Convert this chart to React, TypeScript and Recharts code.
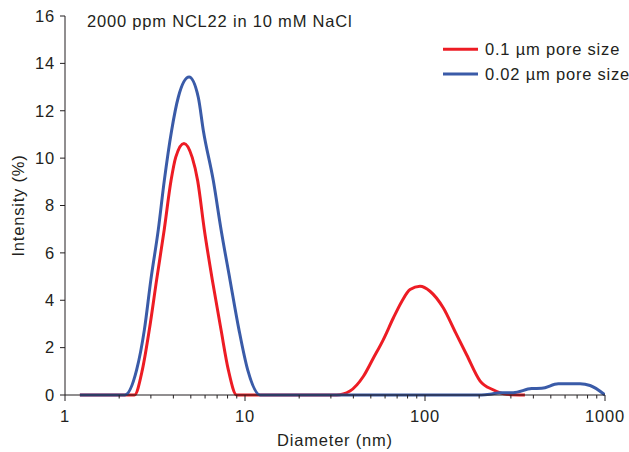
import { LineChart, Line, XAxis, YAxis } from "recharts";

// diameter (nm) / intensity (%)
const redDiameter = [
  1.21, 2.43, 2.69, 2.94, 3.23, 3.56, 3.88, 4.12, 4.58, 5.09, 5.46, 5.94, 6.58, 7.36, 8.08, 8.99,
  32.3, 38.3, 45.4, 51.6, 58.6, 66.7, 74.3, 82.6, 93.8, 106.6, 126.5, 146.8, 170.6, 202, 239, 284, 359,
];
const redIntensity = [
  0, 0, 1.06, 2.75, 4.87, 6.99, 9.04, 10.03, 10.62, 10.03, 9.04, 6.99, 4.87, 2.75, 1.06, 0,
  0, 0.17, 0.78, 1.55, 2.33, 3.25, 3.95, 4.45, 4.59, 4.38, 3.67, 2.68, 1.69, 0.6, 0.22, 0.03, 0,
];
const blueDiameter = [
  1.21, 2.15, 2.5, 2.76, 3.0, 3.3, 3.56, 3.91, 4.26, 4.89, 5.5, 5.87, 6.67, 7.36, 8.25, 9.26, 10.35, 12.12,
  206, 230, 261, 309, 391, 445, 550, 727, 826, 1000,
];
const blueIntensity = [
  0, 0, 1.06, 2.75, 4.87, 6.99, 9.04, 11.16, 12.57, 13.42, 12.57, 11.16, 9.04, 6.99, 4.87, 2.75, 1.06, 0,
  0, 0.03, 0.1, 0.1, 0.27, 0.28, 0.47, 0.47, 0.4, 0,
];

const xMajor = [1, 10, 100, 1000];
const xTicks = [
  1, 2, 3, 4, 5, 6, 7, 8, 9, 10, 20, 30, 40, 50, 60, 70, 80, 90, 100, 200, 300, 400, 500, 600, 700, 800,
  900, 1000,
];
const yTicks = [0, 2, 4, 6, 8, 10, 12, 14, 16];

const RED = "#ed1c24";
const BLUE = "#3a5ba8";
const INK = "#231f20";
const FONT = "'Liberation Sans', Arial, sans-serif";
const textStyle = { fontFamily: FONT, fontSize: 16.5, letterSpacing: 0.8, fill: INK };

const redData = redDiameter.map((d, i) => ({ d, v: redIntensity[i] }));
const blueData = blueDiameter.map((d, i) => ({ d, v: blueIntensity[i] }));

const XTick = (props: any) => {
  const { x, y, payload } = props;
  const major = xMajor.includes(payload.value);
  return (
    <g>
      <line x1={x} x2={x} y1={y} y2={y + (major ? 6 : 3.5)} stroke={INK} strokeWidth={1} />
      {major && (
        <text x={x} y={y + 27} textAnchor="middle" style={textStyle}>
          {payload.value}
        </text>
      )}
    </g>
  );
};

const series = [
  { name: "0.1 µm pore size", color: RED },
  { name: "0.02 µm pore size", color: BLUE },
];

export default function App() {
  return (
    <div style={{ position: "absolute", left: 0, top: 0, width: 629, height: 452, background: "#fff" }}>
      <LineChart width={629} height={452} margin={{ top: 16, right: 24, bottom: 0, left: 0 }}>
        <XAxis
          dataKey="d"
          type="number"
          scale="log"
          domain={[1, 1000]}
          ticks={xTicks}
          interval={0}
          allowDataOverflow
          height={57}
          tickSize={0}
          tickMargin={0}
          tickLine={false}
          tick={<XTick />}
          axisLine={{ stroke: INK, strokeWidth: 1 }}
          label={{ value: "Diameter (nm)", position: "insideBottom", offset: 6, style: textStyle }}
        />
        <YAxis
          type="number"
          domain={[0, 16]}
          ticks={yTicks}
          interval={0}
          width={65}
          tickSize={5}
          tickMargin={5}
          tick={textStyle}
          tickLine={{ stroke: INK }}
          axisLine={{ stroke: INK, strokeWidth: 1 }}
          label={{
            value: "Intensity (%)",
            angle: -90,
            position: "insideLeft",
            offset: 18,
            style: { ...textStyle, textAnchor: "middle" },
          }}
        />
        <Line
          data={redData}
          dataKey="v"
          type="monotone"
          stroke={RED}
          strokeWidth={3}
          dot={false}
          isAnimationActive={false}
        />
        <Line
          data={blueData}
          dataKey="v"
          type="monotone"
          stroke={BLUE}
          strokeWidth={3}
          dot={false}
          isAnimationActive={false}
        />
      </LineChart>
      <svg width={629} height={452} style={{ position: "absolute", left: 0, top: 0, pointerEvents: "none" }}>
        <text x={87} y={26.6} style={textStyle}>
          2000 ppm NCL22 in 10 mM NaCl
        </text>
        {series.map((s, i) => (
          <g key={s.name}>
            <line x1={443} x2={478} y1={49.3 + i * 24.7} y2={49.3 + i * 24.7} stroke={s.color} strokeWidth={3} />
            <text x={485} y={55.2 + i * 24.7} style={textStyle}>
              {s.name}
            </text>
          </g>
        ))}
      </svg>
    </div>
  );
}
